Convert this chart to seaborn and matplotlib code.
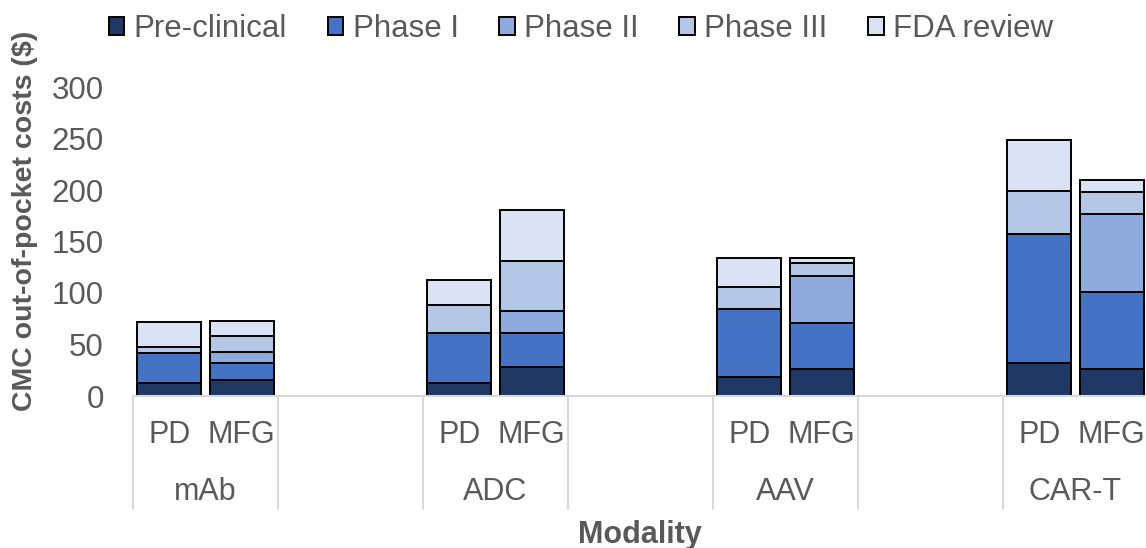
import numpy as np
import pandas as pd
import matplotlib
matplotlib.use("Agg")
import matplotlib.pyplot as plt
import seaborn as sns
from matplotlib.patches import Patch

modalities = ["mAb", "ADC", "AAV", "CAR-T"]
stages = ["PD", "MFG"]
phases = ["Pre-clinical", "Phase I", "Phase II", "Phase III", "FDA review"]
colors = ["#1F3864", "#4472C4", "#8FAADC", "#B4C7E7", "#DAE3F3"]

# order: mAb PD, mAb MFG, ADC PD, ADC MFG, AAV PD, AAV MFG, CAR-T PD, CAR-T MFG
pre_clinical = [13, 15.5, 13, 28.5, 18.5, 26, 32, 26]
phase_1 = [29, 16.5, 48, 32.5, 65.5, 45, 125, 74.5]
phase_2 = [0, 10.5, 0, 22, 0, 45.5, 0, 76.5]
phase_3 = [6, 16, 27.5, 48.5, 22, 13, 42.5, 21.5]
fda_review = [24, 14.5, 24, 49, 28, 4, 49, 11]

yticks = [0, 50, 100, 150, 200, 250, 300]

sns.set_theme(style="white")
plt.rcParams["font.family"] = ["Liberation Sans", "DejaVu Sans"]
GREY = "#595959"

# build data
rows = []
for i, m in enumerate(modalities):
    for j, s in enumerate(stages):
        rows.append({"slot": f"{m}|{s}", "modality": m, "stage": s})
df = pd.DataFrame(rows)
layers = [pre_clinical, phase_1, phase_2, phase_3, fda_review]
cum = np.cumsum(np.array(layers, dtype=float), axis=0)
for k, p in enumerate(phases):
    df[p] = cum[k]

order = []
for i, m in enumerate(modalities):
    order += [f"{m}|PD", f"{m}|MFG"]
    if i < len(modalities) - 1:
        order += [f"gap{i}a", f"gap{i}b"]

W, H = 1146, 548
fig = plt.figure(figsize=(W / 100, H / 100), dpi=100)
left_px, right_px, top_px, bot_px = 133, 1146, 87, 396
ax = fig.add_axes([left_px / W, 1 - bot_px / H, (right_px - left_px) / W, (bot_px - top_px) / H])

for k in range(len(phases) - 1, -1, -1):
    sns.barplot(data=df, x="slot", y=phases[k], order=order, color=colors[k],
                saturation=1, width=0.88, edgecolor="black", linewidth=1.4,
                errorbar=None, ax=ax)

slot_w = 72.5
ax.set_xlim(-0.5, -0.5 + (right_px - left_px) / slot_w)
ax.set_ylim(0, 300)
ax.set_xticks([])
ax.set_xlabel("")
ax.set_ylabel("")
ax.set_yticks(yticks)
ax.tick_params(axis="y", length=0, pad=21, labelsize=22.5, labelcolor=GREY)
for sp in ["top", "right", "left"]:
    ax.spines[sp].set_visible(False)
ax.spines["bottom"].set_color("#D9D9D9")
ax.spines["bottom"].set_linewidth(1.5)

axh = bot_px - top_px
tr = ax.get_xaxis_transform()
def yf(px):
    return -(px - bot_px) / axh

# separators
for b in range(0, 8):
    x = -0.5 + 2 * b
    ax.plot([x, x], [0, yf(509)], transform=tr, color="#D9D9D9", lw=1.5, clip_on=False)

for i, m in enumerate(modalities):
    base = 4 * i
    for j, s in enumerate(stages):
        ax.text(base + j, yf(443), s, transform=tr, ha="center", va="baseline",
                fontsize=22, color=GREY)
    ax.text(base + 0.5, yf(500), m, transform=tr, ha="center", va="baseline",
            fontsize=22, color=GREY)

fig.text(640 / W, 1 - 543 / H, "Modality", ha="center", va="baseline",
         fontsize=22, fontweight="bold", color=GREY)
fig.text(25 / W, 1 - 221 / H, "CMC out-of-pocket costs ($)", rotation=90,
         ha="center", va="center", fontsize=20.5, fontweight="bold", color=GREY)

handles = [Patch(facecolor=c, edgecolor="black", linewidth=1.4) for c in colors]
leg = fig.legend(handles, phases, loc="center", bbox_to_anchor=(581 / W, 1 - 29 / H),
                 ncol=5, frameon=False, fontsize=22.5, handlelength=0.5, handleheight=0.5,
                 handletextpad=0.3, columnspacing=1.3, borderaxespad=0)
for t in leg.get_texts():
    t.set_color(GREY)

fig.savefig("out.png", dpi=100)
